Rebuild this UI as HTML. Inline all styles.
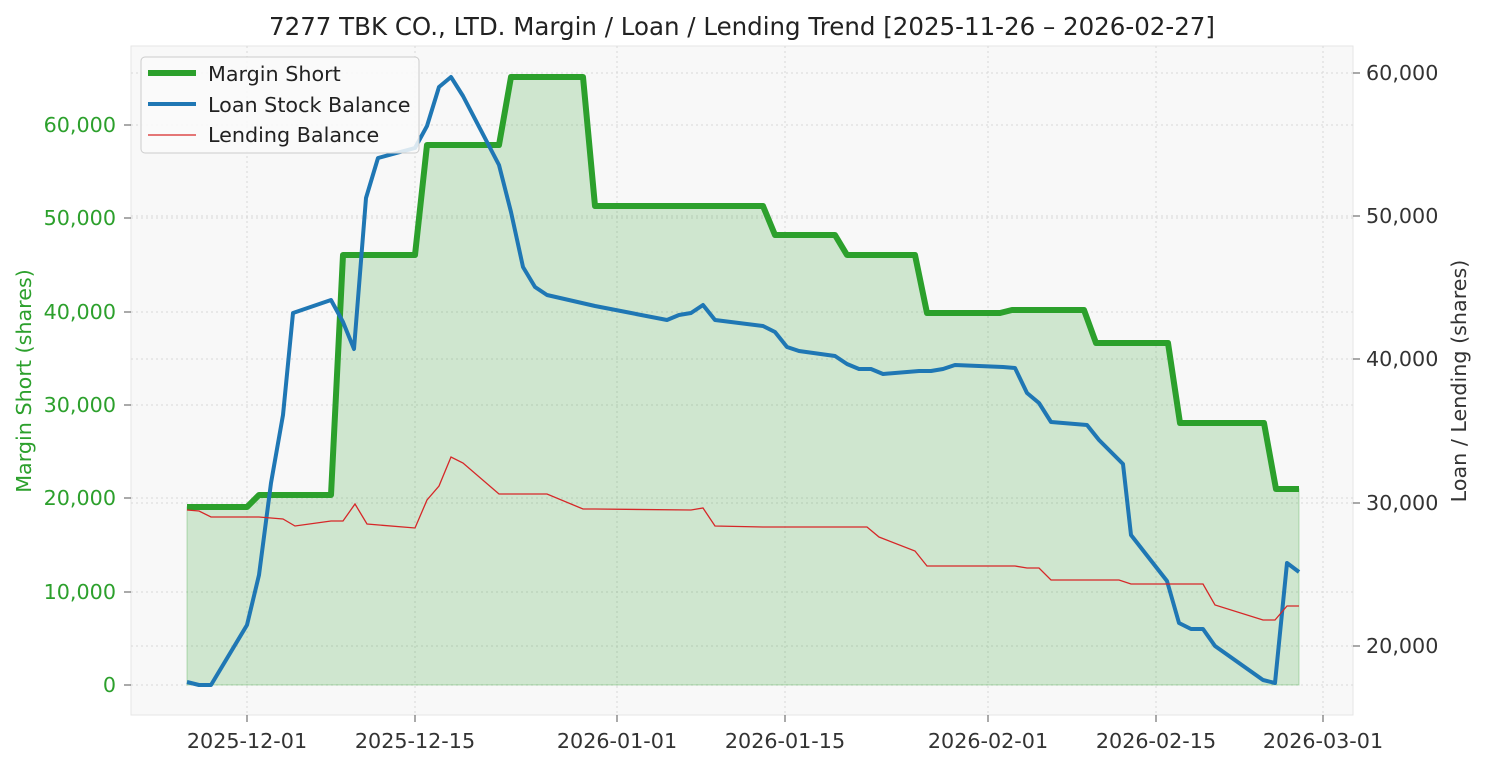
<!DOCTYPE html>
<html><head><meta charset="utf-8"><style>
body{margin:0;background:#fff;}
svg text{font-family:"DejaVu Sans","Liberation Sans",sans-serif;}
</style></head><body>
<svg width="1485" height="765" viewBox="0 0 1485 765" xmlns="http://www.w3.org/2000/svg">
<rect x="0" y="0" width="1485" height="765" fill="#fff"/>
<rect x="131" y="46" width="1222" height="669" fill="#f8f8f8" stroke="#e6e6e6"/>
<text x="742" y="35" font-size="24.5" text-anchor="middle" fill="#222">7277 TBK CO., LTD. Margin / Loan / Lending Trend [2025-11-26 – 2026-02-27]</text>
<g stroke="#d8d8d8" stroke-width="1" stroke-dasharray="2,3">
<line x1="131" x2="1353" y1="685" y2="685"/><line x1="131" x2="1353" y1="592" y2="592"/><line x1="131" x2="1353" y1="498" y2="498"/><line x1="131" x2="1353" y1="405" y2="405"/><line x1="131" x2="1353" y1="312" y2="312"/><line x1="131" x2="1353" y1="218" y2="218"/><line x1="131" x2="1353" y1="125" y2="125"/>
<line x1="131" x2="1353" y1="646" y2="646"/><line x1="131" x2="1353" y1="503" y2="503"/><line x1="131" x2="1353" y1="359" y2="359"/><line x1="131" x2="1353" y1="216" y2="216"/><line x1="131" x2="1353" y1="73" y2="73"/>
<line y1="46" y2="715" x1="247" x2="247"/><line y1="46" y2="715" x1="415" x2="415"/><line y1="46" y2="715" x1="617" x2="617"/><line y1="46" y2="715" x1="785" x2="785"/><line y1="46" y2="715" x1="988" x2="988"/><line y1="46" y2="715" x1="1156" x2="1156"/><line y1="46" y2="715" x1="1323" x2="1323"/>
</g>
<polygon fill="#2ca02c" fill-opacity="0.2" stroke="#2ca02c" stroke-opacity="0.3" points="187,685 187,507 247,507 259,495 331,495 343,255 415,255 427,145 499,145 511,77 583,77 595,206 763,206 775,235 835,235 847,255 915,255 927,313 1000,313 1012,310 1084,310 1096,343 1168,343 1180,423 1264,423 1276,489 1299,489 1299,685"/>
<polyline fill="none" stroke="#2ca02c" stroke-width="6" stroke-linejoin="round" points="187,507 247,507 259,495 331,495 343,255 415,255 427,145 499,145 511,77 583,77 595,206 763,206 775,235 835,235 847,255 915,255 927,313 1000,313 1012,310 1084,310 1096,343 1168,343 1180,423 1264,423 1276,489 1299,489"/>
<polyline fill="none" stroke="#1f77b4" stroke-width="4" stroke-linejoin="round" points="187,682 199,685 211,685 247,625 259,575 271,483 283,415 293,313 331,300 343,322 354,349 366,198 378,158 415,148 427,126 439,87 451,77 463,96 499,165 511,212 523,267 535,287 547,295 595,306 667,320 679,315 691,313 703,305 715,320 763,326 775,332 787,347 799,351 835,356 847,364 859,369 871,369 883,374 919,371 931,371 943,369 955,365 1003,367 1015,368 1027,393 1039,403 1051,422 1087,425 1099,440 1123,464 1131,535 1167,581 1179,623 1191,629 1203,629 1215,646 1263,680 1275,683 1287,563 1299,572"/>
<polyline fill="none" stroke="#d62728" stroke-width="1.3" points="187,510 199,511 211,517 259,517 283,519 295,526 331,521 343,521 355,504 367,524 415,528 427,500 439,486 451,457 463,463 499,494 547,494 583,509 595,509 691,510 703,508 715,526 763,527 867,527 879,537 915,551 927,566 1015,566 1027,568 1039,568 1051,580 1119,580 1131,584 1203,584 1215,605 1263,620 1275,620 1287,606 1299,606"/>
<g font-size="20.7" fill="#2ca02c" text-anchor="end">
<text x="116" y="692">0</text><text x="116" y="599">10,000</text><text x="116" y="505">20,000</text><text x="116" y="412">30,000</text><text x="116" y="319">40,000</text><text x="116" y="225">50,000</text><text x="116" y="132">60,000</text>
</g>
<g stroke="#555"><line x1="124" x2="131" y1="685" y2="685"/><line x1="124" x2="131" y1="592" y2="592"/><line x1="124" x2="131" y1="498" y2="498"/><line x1="124" x2="131" y1="405" y2="405"/><line x1="124" x2="131" y1="312" y2="312"/><line x1="124" x2="131" y1="218" y2="218"/><line x1="124" x2="131" y1="125" y2="125"/>
<line x1="1353" x2="1360" y1="646" y2="646"/><line x1="1353" x2="1360" y1="503" y2="503"/><line x1="1353" x2="1360" y1="359" y2="359"/><line x1="1353" x2="1360" y1="216" y2="216"/><line x1="1353" x2="1360" y1="73" y2="73"/>
<line y1="715" y2="722" x1="247" x2="247"/><line y1="715" y2="722" x1="415" x2="415"/><line y1="715" y2="722" x1="617" x2="617"/><line y1="715" y2="722" x1="785" x2="785"/><line y1="715" y2="722" x1="988" x2="988"/><line y1="715" y2="722" x1="1156" x2="1156"/><line y1="715" y2="722" x1="1323" x2="1323"/></g>
<g font-size="20.7" fill="#333">
<text x="1366" y="653">20,000</text><text x="1366" y="510">30,000</text><text x="1366" y="366">40,000</text><text x="1366" y="223">50,000</text><text x="1366" y="80">60,000</text>
</g>
<g font-size="20.7" fill="#333" text-anchor="middle">
<text x="247" y="748">2025-12-01</text><text x="415" y="748">2025-12-15</text><text x="617" y="748">2026-01-01</text><text x="785" y="748">2026-01-15</text><text x="988" y="748">2026-02-01</text><text x="1156" y="748">2026-02-15</text><text x="1323" y="748">2026-03-01</text>
</g>
<text transform="translate(31,381) rotate(-90)" font-size="20.7" fill="#2ca02c" text-anchor="middle">Margin Short (shares)</text>
<text transform="translate(1466,381) rotate(-90)" font-size="20.7" fill="#333" text-anchor="middle">Loan / Lending (shares)</text>
<rect x="141" y="57" width="278" height="96" rx="4" fill="#fafafa" fill-opacity="0.85" stroke="#ccc"/>
<line x1="148" x2="196" y1="73" y2="73" stroke="#2ca02c" stroke-width="6"/>
<line x1="148" x2="196" y1="104" y2="104" stroke="#1f77b4" stroke-width="4"/>
<line x1="148" x2="196" y1="135" y2="135" stroke="#d62728" stroke-width="1.3"/>
<g font-size="20.7" fill="#222"><text x="208" y="81">Margin Short</text><text x="208" y="112">Loan Stock Balance</text><text x="208" y="142">Lending Balance</text></g>
</svg>
</body></html>
